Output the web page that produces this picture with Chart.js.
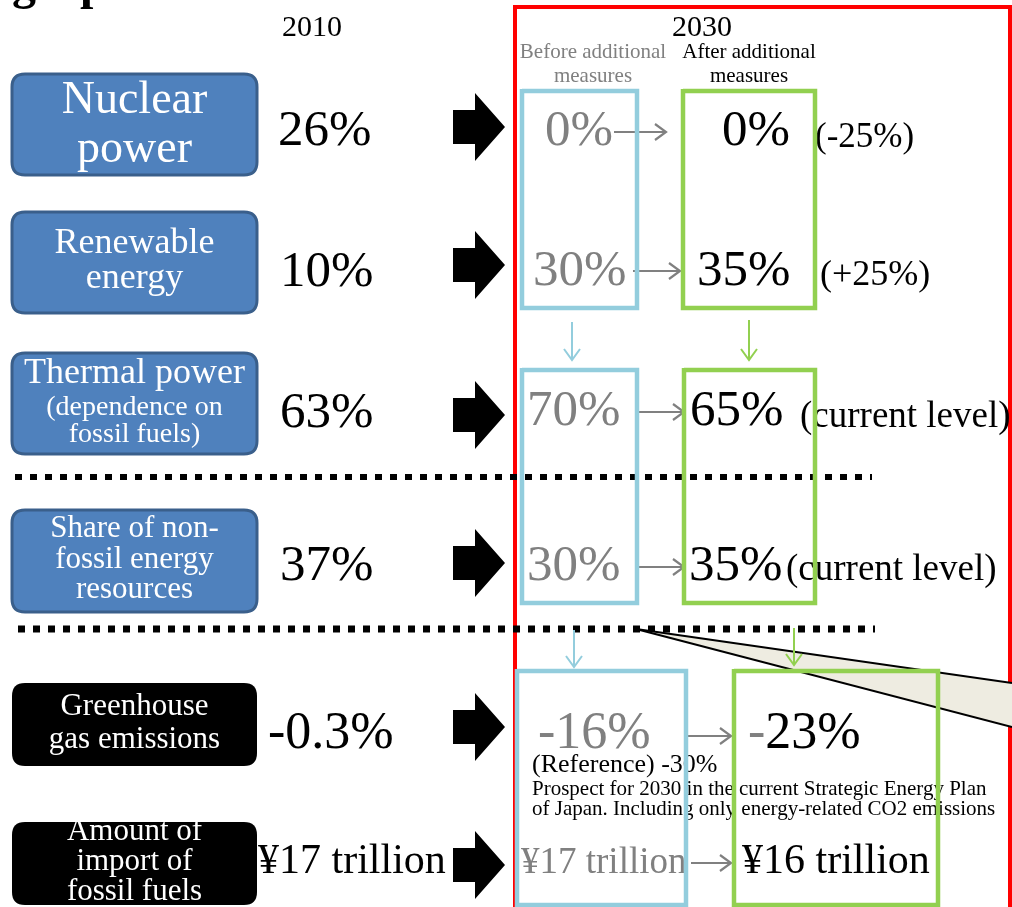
<!DOCTYPE html>
<html><head><meta charset="utf-8">
<script src="https://cdn.jsdelivr.net/npm/chart.js@4/dist/chart.umd.min.js"></script>
<style>html,body{margin:0;padding:0;background:#fff;overflow:hidden}canvas{display:block}</style>
</head><body><canvas id="c" width="1012" height="907"></canvas>
<script>
// ---- data ----
const categories = [["Nuclear","power"],["Renewable","energy"],["Thermal power","(dependence on","fossil fuels)"],["Share of non-","fossil energy","resources"],["Greenhouse","gas emissions"],["Amount of","import of","fossil fuels"]];
const values2010 = ["26%","10%","63%","37%","-0.3%","¥17 trillion"];
const values2030Before = ["0%","30%","70%","30%","-16%","¥17 trillion"];
const values2030After = ["0%","35%","65%","35%","-23%","¥16 trillion"];
const changeNotes = ["(-25%)","(+25%)","(current level)","(current level)","",""];
const columnLabels = ["2010","2030"];
const scenarioLabels = [["Before additional","measures"],["After additional","measures"]];
const referenceNote = ["(Reference) -30%","Prospect for 2030 in the current Strategic Energy Plan","of Japan. Including only energy-related CO2 emissions"];

// ---- layout (positions / styles) ----
const FONT = '"Liberation Serif","Times New Roman",serif';
const BLUE_FILL = '#4F81BD', BLUE_EDGE = '#3A5F8B', SKY = '#93CDDD', LIME = '#92D050', GRAY = '#808080', RED = '#FF0000';
const rows = [
 {box:[74,175],dark:false,lSize:[46,46],lBase:[113,162],arrowY:127,valX:278,valBase:145,valSize:51,befX:545,befBase:145,befSize:51,gA:[614,666,132],aftX:722,aftBase:145,aftSize:51,noteX:815,noteBase:147,noteSize:35},
 {box:[212,313],dark:false,lSize:[36,36],lBase:[253,288],arrowY:265,valX:280,valBase:286,valSize:51,befX:533,befBase:285,befSize:51,gA:[633,680,271],aftX:697,aftBase:285,aftSize:51,noteX:820,noteBase:285,noteSize:36},
 {box:[353,454],dark:false,lSize:[36,28,28],lBase:[383,415,442],arrowY:415,valX:280,valBase:427,valSize:51,befX:527,befBase:425,befSize:51,gA:[638,684,412],aftX:690,aftBase:425,aftSize:51,noteX:800,noteBase:427,noteSize:37},
 {box:[510,612],dark:false,lSize:[31,31,31],lBase:[537,568,598],arrowY:563,valX:280,valBase:580,valSize:51,befX:527,befBase:580,befSize:51,gA:[638,684,567],aftX:689,aftBase:580,aftSize:51,noteX:786,noteBase:580,noteSize:37},
 {box:[683,766],dark:true,lSize:[31,31],lBase:[715,748],arrowY:727,valX:268,valBase:748,valSize:52,befX:538,befBase:748,befSize:52,gA:[688,731,736],aftX:748,aftBase:748,aftSize:52,noteX:0,noteBase:0,noteSize:0},
 {box:[822,905],dark:true,lSize:[31,31,31],lBase:[840,870,900],arrowY:865,valX:258,valBase:873,valSize:42,befX:521,befBase:873,befSize:37,gA:[691,731,863],aftX:742,aftBase:873,aftSize:42,noteX:0,noteBase:0,noteSize:0}
];
const befBoxes = [[522,91,637,308],[522,370,637,603],[517,671,686,905]];
const aftBoxes = [[683,91,815,308],[684,370,815,603],[734,671,938,905]];

const infographic = {
  id:'infographic',
  afterDraw(chart){
    const ctx = chart.ctx, xs = chart.scales.x, ys = chart.scales.y;
    const X = v => xs.getPixelForValue(v), Y = v => ys.getPixelForValue(v);
    const text = (t,x,y,size,color,align,weight) => {
      ctx.font = (weight||'') + ' ' + size + 'px ' + FONT;
      ctx.fillStyle = color; ctx.textAlign = align||'left'; ctx.textBaseline = 'alphabetic';
      ctx.fillText(t, X(x), Y(y));
    };
    const rrect = (x0,y0,x1,y1,r) => {
      ctx.beginPath();
      ctx.moveTo(X(x0+r),Y(y0)); ctx.lineTo(X(x1-r),Y(y0)); ctx.quadraticCurveTo(X(x1),Y(y0),X(x1),Y(y0+r));
      ctx.lineTo(X(x1),Y(y1-r)); ctx.quadraticCurveTo(X(x1),Y(y1),X(x1-r),Y(y1));
      ctx.lineTo(X(x0+r),Y(y1)); ctx.quadraticCurveTo(X(x0),Y(y1),X(x0),Y(y1-r));
      ctx.lineTo(X(x0),Y(y0+r)); ctx.quadraticCurveTo(X(x0),Y(y0),X(x0+r),Y(y0));
      ctx.closePath();
    };
    const line = (pts,color,w,dash) => {
      ctx.save(); ctx.strokeStyle=color; ctx.lineWidth=w; ctx.setLineDash(dash||[]); ctx.lineCap='butt';
      ctx.beginPath(); pts.forEach((p,i)=> i? ctx.lineTo(X(p[0]),Y(p[1])) : ctx.moveTo(X(p[0]),Y(p[1]))); ctx.stroke(); ctx.restore();
    };
    ctx.save();
    // cut-off title fragment
    text('g',12,-1,48,'#000','left','bold');
    text('p',80,-1,48,'#000','left','bold');

    // red frame
    line([[515,907],[515,7],[1010,7],[1010,907]],RED,4);
    line([[1010.5,7],[1010.5,907]],RED,1.5);

    // column headers
    text(columnLabels[0],312,36,30,'#000','center');
    text(columnLabels[1],702,36,30,'#000','center');
    text(scenarioLabels[0][0],593,58,21,GRAY,'center');
    text(scenarioLabels[0][1],593,82,21,GRAY,'center');
    text(scenarioLabels[1][0],749,58,21,'#000','center');
    text(scenarioLabels[1][1],749,82,21,'#000','center');

    // dotted separators
    line([[15,477],[872,477]],'#000',6,[7,8]);
    line([[18,629],[875,629]],'#000',7,[7,8]);

    // callout wedge
    ctx.beginPath(); ctx.moveTo(X(636),Y(629)); ctx.lineTo(X(1012),Y(683)); ctx.lineTo(X(1012),Y(727)); ctx.closePath();
    ctx.fillStyle='#EEECE1'; ctx.fill();
    line([[636,629],[1012,683]],'#000',2);
    line([[636,629],[1012,727]],'#000',2);

    rows.forEach((r,i)=>{
      // label box
      rrect(12,r.box[0],257,r.box[1],13);
      ctx.fillStyle = r.dark ? '#000' : BLUE_FILL; ctx.fill();
      if(!r.dark){ ctx.lineWidth=3; ctx.strokeStyle=BLUE_EDGE; ctx.stroke(); }
      categories[i].forEach((t,j)=> text(t,134.5,r.lBase[j],r.lSize[j],'#fff','center'));
      // 2010 value
      text(values2010[i],r.valX,r.valBase,r.valSize,'#000');
      // block arrow
      const cy=r.arrowY;
      ctx.beginPath();
      ctx.moveTo(X(453),Y(cy-17)); ctx.lineTo(X(475),Y(cy-17)); ctx.lineTo(X(475),Y(cy-34));
      ctx.lineTo(X(505),Y(cy)); ctx.lineTo(X(475),Y(cy+34)); ctx.lineTo(X(475),Y(cy+17)); ctx.lineTo(X(453),Y(cy+17));
      ctx.closePath(); ctx.fillStyle='#000'; ctx.fill();
      // 2030 values
      text(values2030Before[i],r.befX,r.befBase,r.befSize,GRAY);
      const a = values2030After[i];
      if(a.startsWith('-')){
        ctx.font = r.aftSize+'px '+FONT;
        const w = ctx.measureText('-').width;
        text('-',r.aftX,r.aftBase,r.aftSize,GRAY);
        text(a.slice(1),r.aftX+w,r.aftBase,r.aftSize,'#000');
      } else text(a,r.aftX,r.aftBase,r.aftSize,'#000');
      if(changeNotes[i]) text(changeNotes[i],r.noteX,r.noteBase,r.noteSize,'#000');
      // gray arrow
      const [gx0,gx1,gy]=r.gA;
      line([[gx0,gy],[gx1,gy]],GRAY,2.2);
      line([[gx1-11,gy-8],[gx1,gy],[gx1-11,gy+8]],GRAY,2.2);
    });

    // reference note
    text(referenceNote[0],532,772,26,'#000');
    text(referenceNote[1],532,795,21,'#000');
    text(referenceNote[2],532,815,21,'#000');

    // scenario boxes
    befBoxes.forEach(b=> line([[b[0],b[1]],[b[2],b[1]],[b[2],b[3]],[b[0],b[3]],[b[0],b[1]-2]],SKY,4.5));
    aftBoxes.forEach(b=> line([[b[0],b[1]],[b[2],b[1]],[b[2],b[3]],[b[0],b[3]],[b[0],b[1]-2]],LIME,4.5));

    // small vertical arrows
    const vArrow=(x,y0,y1,c)=>{ line([[x,y0],[x,y1]],c,2); line([[x-8,y1-11],[x,y1],[x+8,y1-11]],c,2); };
    vArrow(572,322,360,SKY); vArrow(749,320,360,LIME);
    vArrow(574,630,667,SKY); vArrow(794,628,665,LIME);
    ctx.restore();
  }
};

new Chart(document.getElementById('c'),{
  type:'scatter',
  data:{datasets:[{data:[],pointRadius:0}]},
  options:{
    responsive:false, animation:false, devicePixelRatio:1,
    layout:{padding:0},
    plugins:{legend:{display:false},tooltip:{enabled:false}},
    scales:{
      x:{type:'linear',min:0,max:1012,display:false},
      y:{type:'linear',min:0,max:907,reverse:true,display:false}
    }
  },
  plugins:[infographic]
});
</script></body></html>
